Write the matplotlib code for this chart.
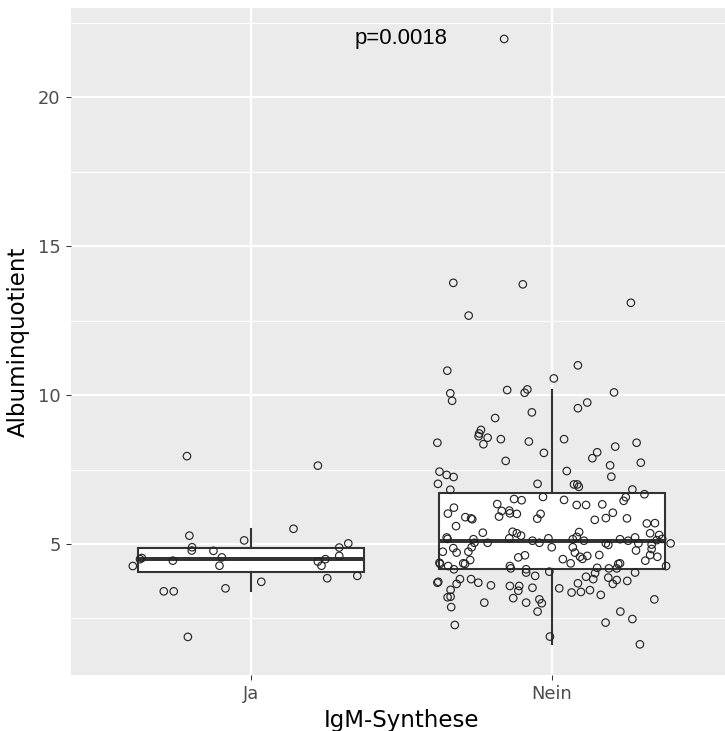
import matplotlib
matplotlib.use("Agg")
import matplotlib.pyplot as plt
from matplotlib.ticker import FixedLocator

# ---- data ---------------------------------------------------------------
categories = ["Ja", "Nein"]

# box statistics per group: lower whisker, Q1, median, Q3, upper whisker
box_whislo = [3.42, 1.64]
box_q1 = [4.07, 4.15]
box_med = [4.50, 5.11]
box_q3 = [4.88, 6.72]
box_whishi = [5.50, 10.17]

# individual observations (Albuminquotient) with their horizontal jitter
ja_values = [7.95, 7.63, 5.28, 5.12, 5.51, 4.89, 4.78, 4.77, 4.55, 4.27,
             4.44, 4.53, 4.49, 4.26, 3.41, 3.41, 3.51, 1.88, 3.73, 4.88,
             5.02, 4.60, 4.49, 4.41, 4.27, 3.85, 3.93]
ja_jitter = [-0.213, 0.222, -0.205, -0.023, 0.141, -0.196, -0.197, -0.125,
             -0.097, -0.105, -0.260, -0.363, -0.369, -0.393, -0.290, -0.257,
             -0.085, -0.210, 0.034, 0.293, 0.323, 0.293, 0.247, 0.222, 0.234,
             0.253, 0.353]

nein_values = [13.77, 13.72, 12.67, 13.10, 10.82, 11.00, 10.56, 10.06, 9.81,
               10.17, 10.19, 10.08, 10.09, 9.56, 9.75, 9.42, 9.23, 8.83, 8.71,
               8.62, 8.57, 8.52, 8.40, 8.35, 8.44, 8.52, 8.27, 8.40, 8.06,
               8.08, 7.88, 7.64, 7.73, 7.26, 7.79, 7.45, 7.43, 7.32, 7.25,
               7.02, 6.82, 7.02, 7.00, 7.00, 6.92, 6.83, 6.67, 6.57, 6.45,
               6.58, 6.48, 6.51, 6.47, 6.34, 6.31, 6.31, 6.33, 6.22, 6.02,
               6.11, 6.12, 6.03, 6.01, 5.92, 5.90, 5.86, 5.83, 6.01, 5.85,
               6.05, 5.87, 5.81, 5.86, 5.69, 5.70, 5.60, 5.38, 5.41, 5.36,
               5.28, 5.40, 5.24, 5.36, 5.30, 5.22, 5.16, 5.04, 5.04, 5.19,
               5.11, 5.04, 5.19, 5.16, 5.11, 5.16, 5.11, 5.02, 4.97, 5.22,
               5.13, 5.17, 5.02, 4.86, 4.71, 4.74, 4.74, 4.89, 4.46, 4.35,
               4.33, 4.37, 4.33, 4.15, 4.26, 4.55, 4.62, 4.89, 4.89, 4.71,
               4.57, 4.50, 4.60, 4.49, 4.35, 4.63, 4.78, 4.63, 4.57, 4.44,
               4.26, 4.18, 4.15, 4.04, 4.07, 4.20, 4.18, 4.33, 4.18, 4.35,
               4.26, 3.73, 3.70, 3.82, 3.66, 3.82, 3.70, 3.61, 3.46, 3.21,
               3.23, 2.88, 2.28, 3.03, 3.59, 3.59, 3.43, 3.18, 3.03, 3.93,
               3.53, 3.14, 3.01, 2.73, 1.89, 3.51, 3.68, 3.90, 3.37, 3.39,
               3.45, 3.82, 4.02, 3.29, 3.87, 3.66, 3.79, 3.76, 4.04, 3.14,
               2.73, 2.48, 2.36, 1.63, 21.96, 5.17, 5.02, 4.98, 4.83]
nein_jitter = [-0.328, -0.097, -0.277, 0.262, -0.348, 0.086, 0.006, -0.338,
               -0.332, -0.149, -0.082, -0.091, 0.206, 0.086, 0.117, -0.067,
               -0.189, -0.236, -0.242, -0.244, -0.214, -0.170, -0.381, -0.228,
               -0.077, 0.040, 0.210, 0.281, -0.027, 0.150, 0.134, 0.193,
               0.295, 0.197, -0.154, 0.049, -0.374, -0.350, -0.327, -0.379,
               -0.338, -0.048, 0.073, 0.084, 0.089, 0.267, 0.307, 0.245,
               0.238, -0.030, 0.040, -0.126, -0.101, -0.182, 0.082, 0.113,
               0.167, -0.326, -0.346, -0.167, -0.142, -0.140, -0.117, -0.176,
               -0.288, -0.269, -0.265, -0.038, -0.049, 0.202, 0.179, 0.142,
               0.249, 0.315, 0.342, -0.319, -0.230, -0.131, -0.117, -0.103,
               0.090, 0.082, 0.326, 0.356, -0.350, -0.261, -0.258, -0.214,
               -0.142, -0.065, -0.042, -0.012, 0.069, 0.106, 0.226, 0.253,
               0.179, 0.187, 0.276, 0.348, 0.366, 0.394, -0.328, -0.317,
               -0.363, -0.278, -0.267, -0.272, -0.295, -0.289, -0.374, -0.372,
               -0.326, -0.345, -0.112, -0.090, -0.001, 0.069, 0.076, 0.093,
               0.101, 0.117, 0.036, 0.062, 0.157, 0.279, 0.326, 0.350, 0.310,
               -0.140, -0.137, -0.086, -0.086, -0.009, 0.150, 0.189, 0.220,
               0.215, 0.226, 0.379, -0.378, -0.381, -0.306, -0.317, -0.269,
               -0.245, -0.203, -0.337, -0.347, -0.337, -0.335, -0.323, -0.225,
               -0.140, -0.109, -0.112, -0.129, -0.086, -0.056, -0.065, -0.042,
               -0.034, -0.048, -0.007, 0.024, 0.086, 0.113, 0.065, 0.096,
               0.126, 0.137, 0.143, 0.162, 0.187, 0.202, 0.215, 0.250, 0.276,
               0.340, 0.227, 0.267, 0.178, 0.292, -0.159, -0.347, 0.287,
               0.331, 0.331]

p_label = "p=0.0018"

y_major = [5, 10, 15, 20]
y_minor = [2.5, 7.5, 12.5, 17.5, 22.5]

# ---- figure ---------------------------------------------------------------
DPI = 150
fig = plt.figure(figsize=(725 / DPI, 731 / DPI), dpi=DPI)
ax = fig.add_axes([70.5 / 725, 1 - 675 / 731, (732.6 - 70.5) / 725, 667 / 731])

ax.set_facecolor("#EBEBEB")
for s in ax.spines.values():
    s.set_visible(False)

ax.set_xlim(0.4, 2.6)
ax.set_ylim(0.6, 23.0)

# grid
for y in y_minor:
    ax.axhline(y, color="white", lw=0.55, zorder=0)
for y in y_major:
    ax.axhline(y, color="white", lw=1.1, zorder=0)
for x in (1, 2):
    ax.axvline(x, color="white", lw=1.1, zorder=0)

# boxes
stats = []
for i in range(len(categories)):
    stats.append(dict(med=box_med[i], q1=box_q1[i], q3=box_q3[i],
                      whislo=box_whislo[i], whishi=box_whishi[i], fliers=[]))
ax.bxp(stats, positions=[1, 2], widths=0.75, showcaps=False,
       showfliers=False, patch_artist=True, manage_ticks=False,
       boxprops=dict(facecolor="white", edgecolor="#333333", linewidth=1.0),
       whiskerprops=dict(color="#333333", linewidth=1.0),
       medianprops=dict(color="#333333", linewidth=1.9),
       zorder=2)

# jittered points
ax.scatter([1 + d for d in ja_jitter], ja_values, s=3.6 ** 2,
           facecolors="none", edgecolors="#222222", linewidths=0.55, zorder=3)
ax.scatter([2 + d for d in nein_jitter], nein_values, s=3.6 ** 2,
           facecolors="none", edgecolors="#222222", linewidths=0.55, zorder=3)

# p-value annotation
ax.text(1.5, max(nein_values), p_label, ha="center", va="center",
        fontsize=10.6, family=["Liberation Sans", "DejaVu Sans"],
        color="black", zorder=4)

# axes
ax.xaxis.set_major_locator(FixedLocator([1, 2]))
ax.set_xticklabels(categories)
ax.yaxis.set_major_locator(FixedLocator(y_major))
ax.set_yticklabels([str(v) for v in y_major])
ax.tick_params(axis="both", length=2.6, width=0.5, color="#333333",
               labelcolor="#4D4D4D", labelsize=8.6, pad=2.2)
ax.set_xlabel("IgM-Synthese", fontsize=11, color="black", labelpad=3)
ax.set_ylabel("Albuminquotient", fontsize=11, color="black", labelpad=4)

fig.savefig("out.png", dpi=DPI)
